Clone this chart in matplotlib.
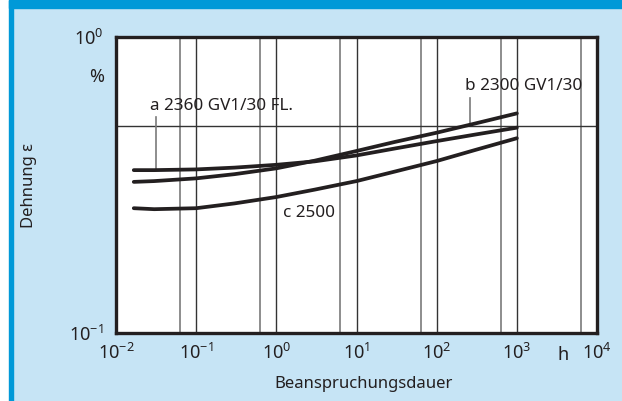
import numpy as np
import matplotlib
matplotlib.use("Agg")
import matplotlib.pyplot as plt
from matplotlib.patches import Rectangle

plt.rcParams['font.family'] = ['Noto Sans', 'DejaVu Sans']
plt.rcParams['mathtext.fontset'] = 'custom'
plt.rcParams['mathtext.rm'] = 'Noto Sans'

# Beanspruchungsdauer in h, Dehnung in %
t = [1/60, 0.03, 0.1, 0.3, 1, 3, 10, 30, 100, 300, 1000]
a_2360 = [0.355, 0.355, 0.357, 0.362, 0.370, 0.380, 0.398, 0.420, 0.445, 0.468, 0.494]
b_2300 = [0.324, 0.326, 0.333, 0.344, 0.360, 0.382, 0.412, 0.442, 0.475, 0.510, 0.552]
c_2500 = [0.264, 0.262, 0.264, 0.274, 0.288, 0.305, 0.326, 0.351, 0.381, 0.415, 0.455]

xticks = [1e-2, 1e-1, 1e0, 1e1, 1e2, 1e3, 1e4]
xlabels = [r'$\mathregular{10^{-2}}$', r'$\mathregular{10^{-1}}$', r'$\mathregular{10^{0}}$',
           r'$\mathregular{10^{1}}$', r'$\mathregular{10^{2}}$', r'$\mathregular{10^{3}}$',
           r'$\mathregular{10^{4}}$']
yticks = [1e-1, 1e0]
ylabels = [r'$\mathregular{10^{-1}}$', r'$\mathregular{10^{0}}$']
grey_lines = [0.063, 0.63, 6.3, 63, 630, 6300]
dark_lines = [0.1, 1, 10, 100, 1000]

bg = '#c6e4f5'
blue = '#0099d8'
ink = '#231f20'

fig = plt.figure(figsize=(6.22, 4.01), dpi=100, facecolor=bg)
W, H = 622, 401
fig.patches.append(Rectangle((0, 0), 9 / W, 1, transform=fig.transFigure, color='white', zorder=0))
fig.patches.append(Rectangle((9 / W, 0), 3.5 / W, 1, transform=fig.transFigure, color=blue, zorder=0))
fig.patches.append(Rectangle((9 / W, 1 - 8 / H), 1, 8 / H, transform=fig.transFigure, color=blue, zorder=0))

ax = fig.add_axes([116 / W, 1 - 333 / H, 481 / W, 296 / H])
ax.set_xscale('log')
ax.set_yscale('log')
ax.set_xlim(1e-2, 1e4)
ax.set_ylim(1e-1, 1e0)
ax.set_facecolor('white')

for x in grey_lines:
    ax.axvline(x, color='#7a7a7a', lw=1.2, zorder=1)
for x in dark_lines:
    ax.axvline(x, color='#333333', lw=1.0, zorder=1)
ax.axhline(0.5, color='#333333', lw=1.0, zorder=1)

for ys in (a_2360, b_2300, c_2500):
    ax.plot(t, ys, color=ink, lw=2.7, solid_capstyle='round', solid_joinstyle='round', zorder=3)

# Beschriftungen mit Hinweislinien
lt = np.log10(t)
xa = 0.0315
ya = 10 ** np.interp(np.log10(xa), lt, np.log10(a_2360))
ax.plot([xa, xa], [0.535, ya], color='#7a7a7a', lw=1.2, zorder=2)
xb = 259
yb = 10 ** np.interp(np.log10(xb), lt, np.log10(b_2300))
ax.plot([xb, xb], [0.62, yb], color='#7a7a7a', lw=1.2, zorder=2)

ax.text(0.0266, 0.585, 'a 2360 GV1/30 FL.', fontsize=12.3, color=ink, va='center', ha='left', zorder=4)
ax.text(225, 0.683, 'b 2300 GV1/30', fontsize=12.3, color=ink, va='center', ha='left', zorder=4)
ax.text(1.21, 0.254, 'c 2500', fontsize=12.3, color=ink, va='center', ha='left', zorder=4)

for s in ax.spines.values():
    s.set_linewidth(2.4)
    s.set_color(ink)
    s.set_zorder(5)

ax.set_xticks(xticks)
ax.set_xticklabels(xlabels)
ax.set_yticks(yticks)
ax.set_yticklabels(ylabels)
ax.minorticks_off()
ax.tick_params(length=0, labelsize=13, colors=ink)
ax.tick_params(axis='x', pad=7)
ax.tick_params(axis='y', pad=9)
for lab in ax.get_xticklabels():
    if '{2}' in lab.get_text():
        lab.set_x(1.45e2)

ax.text(-0.04, 0.865, '%', transform=ax.transAxes, fontsize=13, color=ink, ha='center', va='center')
ax.text(3750, -0.074, 'h', transform=ax.get_xaxis_transform(), fontsize=13, color=ink,
        ha='center', va='center')

ax.set_xlabel('Beanspruchungsdauer', fontsize=12, color=ink)
ax.xaxis.set_label_coords(0.515, -0.145)
ax.set_ylabel('Dehnung ε', fontsize=12, color=ink)
ax.yaxis.set_label_coords(-0.164, 0.5)

fig.savefig('out.png', dpi=100, facecolor=bg)
